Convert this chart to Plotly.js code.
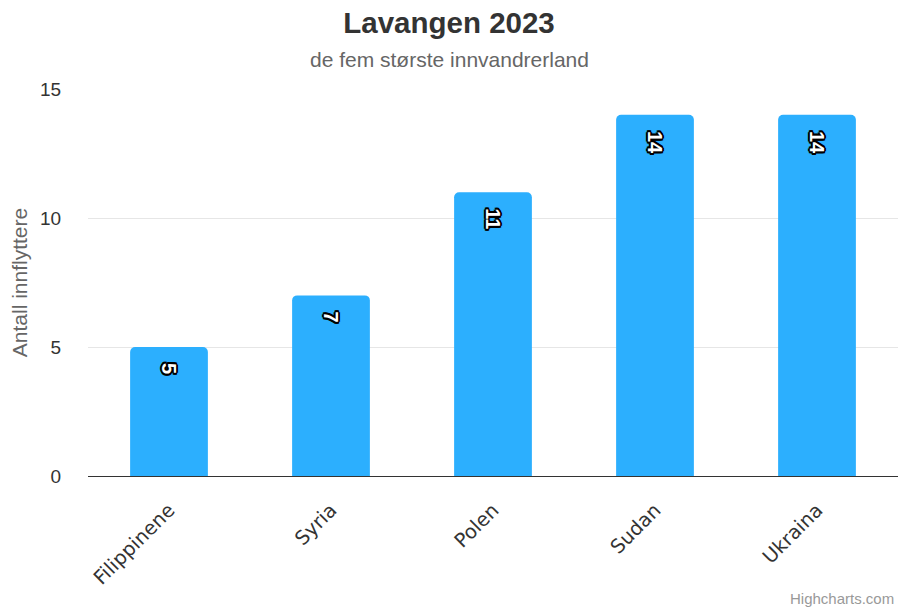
<!DOCTYPE html>
<html>
<head>
<meta charset="utf-8">
<script src="https://cdn.plot.ly/plotly-3.0.1.min.js"></script>
<style>html,body{margin:0;padding:0;background:#fff;}#chart{width:898px;height:609px;}</style>
</head>
<body>
<div id="chart"></div>
<script>
const countries = ["Filippinene", "Syria", "Polen", "Sudan", "Ukraina"];
const movers = [5, 7, 11, 14, 14];
const yTicks = [0, 5, 10, 15];

const outline = "2px 0 0 #000, -2px 0 0 #000, 0 2px 0 #000, 0 -2px 0 #000, 1px 1px 0 #000, -1px -1px 0 #000, 1px -1px 0 #000, -1px 1px 0 #000, 2px 1px 0 #000, -2px 1px 0 #000, 2px -1px 0 #000, -2px -1px 0 #000";

const trace = {
  type: "bar",
  x: countries,
  y: movers,
  marker: {color: "#2caffe", line: {width: 0}},
  texttemplate: "\u00a0\u00a0%{y}",
  textposition: "inside",
  insidetextanchor: "end",
  textangle: 90,
  constraintext: "none",
  textfont: {family: "Liberation Sans, Arial, sans-serif", size: 20, color: "#ffffff", weight: "bold", shadow: outline},
  hoverinfo: "x+y"
};

const layout = {
  width: 898, height: 609,
  margin: {l: 88, r: 0, t: 89, b: 133},
  paper_bgcolor: "#fff", plot_bgcolor: "#fff",
  bargap: 0.52,
  barcornerradius: 5,
  showlegend: false,
  font: {family: "Liberation Sans, Arial, sans-serif", color: "#333"},
  title: {
    text: "<b>Lavangen 2023</b>",
    font: {family: "Liberation Sans, Arial, sans-serif", size: 29.5, color: "#333"},
    x: 0.5, xanchor: "center", xref: "container",
    y: 1 - 23/609, yanchor: "middle", yref: "container"
  },
  xaxis: {
    type: "category",
    range: [-0.5, 4.5],
    tickangle: -45,
    tickfont: {family: "DejaVu Sans, Verdana, sans-serif", size: 19.5, color: "#333"},
    showline: true, linecolor: "#333", linewidth: 1,
    ticks: "outside", ticklen: 14, tickcolor: "rgba(0,0,0,0)",
    showgrid: false, zeroline: false
  },
  yaxis: {
    range: [0, 15],
    tickvals: yTicks,
    ticktext: yTicks.map(String),
    tickfont: {family: "Liberation Sans, Arial, sans-serif", size: 19, color: "#333"},
    showgrid: true, gridcolor: "#e6e6e6", gridwidth: 1,
    zeroline: false, showline: false,
    ticks: "outside", ticklen: 22, tickcolor: "rgba(0,0,0,0)",
    title: {text: "Antall innflyttere", font: {family: "Liberation Sans, Arial, sans-serif", size: 21, color: "#666"}, standoff: 6}
  },
  annotations: [
    {text: "de fem største innvandrerland", xref: "paper", yref: "paper", x: (449 - 88) / 810, xanchor: "center",
     y: 1 + 30/387, yanchor: "middle", showarrow: false,
     font: {family: "Liberation Sans, Arial, sans-serif", size: 21, color: "#666"}},
    {text: "Highcharts.com", xref: "paper", yref: "paper", x: 1 - 2/810, xanchor: "right",
     y: -122/387, yanchor: "middle", showarrow: false,
     font: {family: "Liberation Sans, Arial, sans-serif", size: 15, color: "#999"}}
  ]
};

Plotly.newPlot("chart", [trace], layout, {displayModeBar: false, responsive: false});
</script>
</body>
</html>
